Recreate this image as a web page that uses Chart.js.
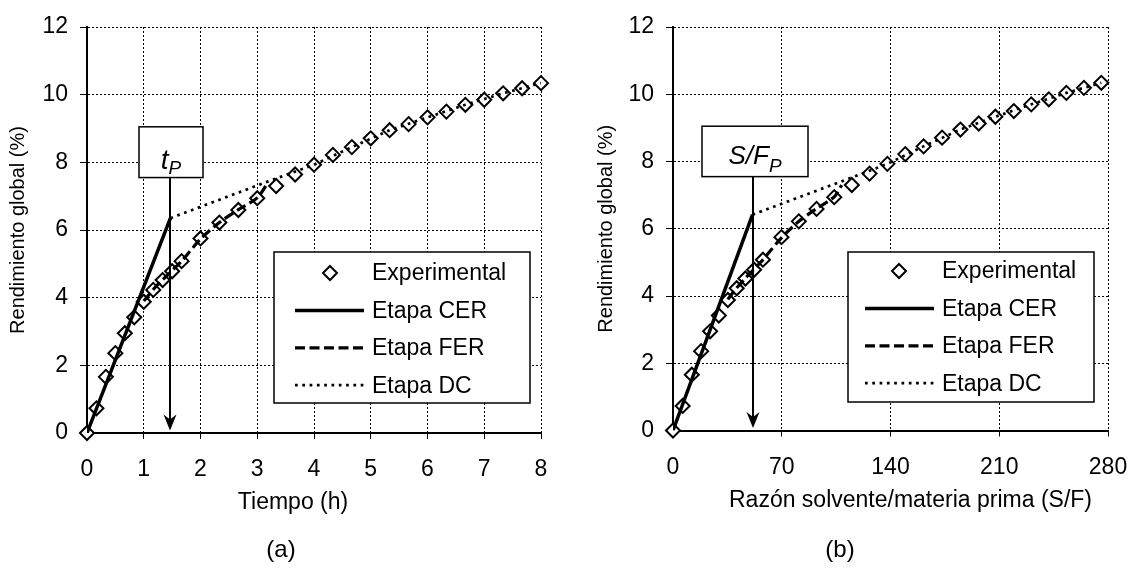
<!DOCTYPE html>
<html><head><meta charset="utf-8">
<script src="https://cdn.jsdelivr.net/npm/chart.js@4.4.1/dist/chart.umd.min.js"></script>
<style>
html,body{margin:0;padding:0;background:#fff;width:1131px;height:583px;overflow:hidden;font-family:"Liberation Sans",Arial,sans-serif;}
#wrapA{position:absolute;left:0;top:0;width:565px;height:583px;}
#wrapB{position:absolute;left:565px;top:0;width:566px;height:583px;}
.cap{position:absolute;font-size:24px;color:#000;transform:translate(-50%,-50%);white-space:nowrap;}
</style></head><body>
<div id="wrapA"><canvas id="cA" width="565" height="583"></canvas></div>
<div id="wrapB"><canvas id="cB" width="566" height="583"></canvas></div>
<div class="cap" style="left:281px;top:549px">(a)</div>
<div class="cap" style="left:840px;top:549px">(b)</div>
<script>
// ---------- data ----------
const timeH    = [0, 0.167, 0.333, 0.5, 0.667, 0.833, 1.0, 1.167, 1.333, 1.5, 1.667, 2.0, 2.333, 2.667, 3.0, 3.333, 3.667, 4.0, 4.333, 4.667, 5.0, 5.333, 5.667, 6.0, 6.333, 6.667, 7.0, 7.333, 7.667, 8.0];
const sfRatio  = [0, 6.2, 12.1, 18.1, 23.9, 29.5, 35.3, 41.0, 46.6, 52.2, 57.9, 69.8, 81.0, 92.4, 103.8, 115.1, 126.5, 138.0, 149.5, 161.3, 173.2, 185.0, 196.8, 207.5, 219.4, 230.6, 241.9, 253.2, 264.5, 275.7];
const yieldPct = [0, 0.73, 1.66, 2.36, 2.95, 3.42, 3.88, 4.23, 4.52, 4.78, 5.08, 5.75, 6.22, 6.59, 6.94, 7.30, 7.64, 7.93, 8.22, 8.45, 8.71, 8.95, 9.13, 9.33, 9.50, 9.70, 9.85, 10.04, 10.19, 10.34];

const cerTime   = [0, 1.47];
const cerYieldA = [0, 6.35];
const ferTime   = [1.0, 1.167, 1.333, 1.5, 1.667, 2.0, 2.333, 2.667, 3.0, 3.15];
const ferYieldA = [3.90, 4.24, 4.53, 4.80, 5.08, 5.73, 6.22, 6.60, 6.95, 7.30];
const dcTime    = [1.47, 3.18, 4.0, 4.667, 5.333, 6.0, 6.667, 7.333, 8.0];
const dcYieldA  = [6.35, 7.43, 7.93, 8.45, 8.95, 9.33, 9.70, 10.04, 10.34];

const cerSF     = [0, 51.2];
const cerYieldB = [0, 6.42];
const ferSF     = [35.3, 41.0, 46.6, 52.2, 57.9, 69.8, 81.0, 92.4, 103.8, 108.6];
const ferYieldB = [3.90, 4.24, 4.53, 4.80, 5.08, 5.73, 6.22, 6.60, 6.95, 7.30];
const dcSF      = [51.2, 109.7, 138.0, 161.3, 185.0, 207.5, 230.6, 253.2, 275.7];
const dcYieldB  = [6.42, 7.43, 7.93, 8.45, 8.95, 9.33, 9.70, 10.04, 10.34];

const xTicksA = [0, 1, 2, 3, 4, 5, 6, 7, 8];
const xTicksB = [0, 70, 140, 210, 280];
const yTicks  = [0, 2, 4, 6, 8, 10, 12];

const seriesNames = ['Experimental', 'Etapa CER', 'Etapa FER', 'Etapa DC'];
const xTitleA = 'Tiempo (h)';
const xTitleB = 'Razón solvente/materia prima (S/F)';
const yTitle  = 'Rendimiento global (%)';
const markA = {value: 1.47, main: 't', sub: 'P'};
const markB = {value: 51.2, main: 'S/F', sub: 'P'};
const boxYRange = [7.55, 9.05];

// ---------- helpers ----------
const FAM = '"Liberation Sans", Arial, sans-serif';
Chart.defaults.font.family = FAM;
Chart.defaults.color = '#000';
const pts = (xs, ys) => xs.map((x, i) => ({x: x, y: ys[i]}));

const annotPlugin = {
  id: 'annot',
  afterDatasetsDraw(chart, args, o) {
    const ctx = chart.ctx, xs = chart.scales.x, ys = chart.scales.y;
    const px = Math.round(xs.getPixelForValue(o.value));
    const y0 = ys.getPixelForValue(0);
    const bT = ys.getPixelForValue(boxYRange[1]);
    const bB = ys.getPixelForValue(boxYRange[0]);
    const cx = px + o.boxDx;
    const bL = cx - o.boxW / 2;
    ctx.save();
    ctx.strokeStyle = '#000'; ctx.lineWidth = 2;
    ctx.beginPath(); ctx.moveTo(px, bB); ctx.lineTo(px, y0 - 12); ctx.stroke();
    const tip = y0 - 2.5;
    ctx.fillStyle = '#000';
    ctx.beginPath(); ctx.moveTo(px, tip); ctx.lineTo(px - 6.5, tip - 16); ctx.lineTo(px, tip - 11); ctx.lineTo(px + 6.5, tip - 16); ctx.closePath(); ctx.fill();
    ctx.fillStyle = '#fff';
    ctx.fillRect(bL, bT, o.boxW, bB - bT);
    ctx.lineWidth = 1.5; ctx.strokeStyle = '#000';
    ctx.strokeRect(bL, bT, o.boxW, bB - bT);
    ctx.fillStyle = '#000';
    ctx.textBaseline = 'alphabetic'; ctx.textAlign = 'left';
    const fMain = 'italic ' + o.mainSize + 'px ' + FAM;
    const fSub = 'italic ' + o.subSize + 'px ' + FAM;
    ctx.font = fMain; const wM = ctx.measureText(o.main).width;
    ctx.font = fSub; const wS = ctx.measureText(o.sub).width;
    const sx = cx - (wM + wS) / 2;
    ctx.font = fMain; ctx.fillText(o.main, sx, bT + o.baseline);
    ctx.font = fSub; ctx.fillText(o.sub, sx + wM, bT + o.baseline + o.subDy);
    ctx.restore();
  }
};

const boxLegendPlugin = {
  id: 'boxLegend',
  afterDatasetsDraw(chart, args, o) {
    const ctx = chart.ctx, ca = chart.chartArea;
    const L = ca.right - o.right - o.width, T = ca.bottom - o.bottom - o.height;
    ctx.save();
    ctx.fillStyle = '#fff'; ctx.fillRect(L, T, o.width, o.height);
    ctx.strokeStyle = '#000'; ctx.lineWidth = 1.5; ctx.strokeRect(L, T, o.width, o.height);
    ctx.font = o.fontSize + 'px ' + FAM; ctx.textBaseline = 'middle'; ctx.textAlign = 'left';
    chart.data.datasets.forEach((ds, i) => {
      const cy = T + o.firstRow + i * o.rowGap;
      ctx.save();
      if (ds.showLine === false) {
        const r = ds.pointRadius;
        ctx.beginPath();
        ctx.moveTo(L + o.symX, cy - r); ctx.lineTo(L + o.symX + r, cy); ctx.lineTo(L + o.symX, cy + r); ctx.lineTo(L + o.symX - r, cy); ctx.closePath();
        ctx.fillStyle = '#fff'; ctx.fill();
        ctx.lineWidth = ds.pointBorderWidth; ctx.strokeStyle = '#000'; ctx.stroke();
      } else {
        ctx.strokeStyle = '#000'; ctx.lineWidth = ds.borderWidth;
        ctx.setLineDash(ds.borderDash || []);
        ctx.beginPath(); ctx.moveTo(L + o.lineX0, cy); ctx.lineTo(L + o.lineX1, cy); ctx.stroke();
      }
      ctx.restore();
      ctx.fillStyle = '#000';
      ctx.fillText(ds.label, L + o.textX, cy + 1);
    });
    ctx.restore();
  }
};

const xTitlePlugin = {
  id: 'xTitle',
  afterDraw(chart, args, o) {
    const ctx = chart.ctx, s = chart.scales.x;
    ctx.save();
    ctx.font = o.fontSize + 'px ' + FAM; ctx.fillStyle = '#000';
    ctx.textAlign = 'center'; ctx.textBaseline = 'middle';
    ctx.fillText(o.text, (s.left + s.right) / 2 + o.dx, chart.chartArea.bottom + o.dy);
    ctx.restore();
  }
};

function datasets(xExp, cerX, cerY, ferX, ferY, dcX, dcY) {
  return [
    {label: seriesNames[0], data: pts(xExp, yieldPct), showLine: false, pointStyle: 'rectRot', pointRadius: 7, pointHoverRadius: 7,
     pointBorderWidth: 2, pointBackgroundColor: '#fff', pointBorderColor: '#000', order: 4, clip: false},
    {label: seriesNames[1], data: pts(cerX, cerY), showLine: true, borderColor: '#000', borderWidth: 3.5, pointRadius: 0, order: 3},
    {label: seriesNames[2], data: pts(ferX, ferY), showLine: true, borderColor: '#000', borderWidth: 3.2, borderDash: [10, 4.5], tension: 0.3, pointRadius: 0, order: 2},
    {label: seriesNames[3], data: pts(dcX, dcY), showLine: true, borderColor: '#000', borderWidth: 2.7, borderDash: [2.7, 4.6], pointRadius: 0, order: 1}
  ];
}

function makeChart(id, cfg) {
  return new Chart(document.getElementById(id), {
    type: 'scatter',
    data: {datasets: cfg.datasets},
    options: {
      responsive: false, animation: false, devicePixelRatio: 1,
      layout: {autoPadding: false, padding: {left: 0, right: cfg.padRight, top: 27, bottom: 0}},
      plugins: {
        legend: {display: false}, tooltip: {enabled: false},
        annot: cfg.annot, boxLegend: cfg.legend,
        xTitle: {text: cfg.xTitle, fontSize: 23, dx: cfg.xTitleDx, dy: 70}
      },
      scales: {
        x: {
          type: 'linear', min: cfg.xTicks[0], max: cfg.xTicks[cfg.xTicks.length - 1],
          afterBuildTicks: s => { s.ticks = cfg.xTicks.map(v => ({value: v})); },
          afterFit: s => { s.height = cfg.xAxisH; s.paddingLeft = 0; s.paddingRight = 0; },
          ticks: {font: {size: 23}, color: '#000', padding: 17, maxRotation: 0, autoSkip: false},
          grid: {color: '#000', lineWidth: 1, drawTicks: true, tickLength: 6, tickColor: '#000', tickWidth: 1},
          border: {display: true, color: '#000', width: 2, dash: [2, 2]},
          title: {display: false, text: cfg.xTitle}
        },
        y: {
          type: 'linear', min: 0, max: 12,
          afterBuildTicks: s => { s.ticks = yTicks.map(v => ({value: v})); },
          afterFit: s => { s.width = cfg.yAxisW; s.paddingTop = 0; s.paddingBottom = 0; },
          ticks: {font: {size: 23}, color: '#000', padding: 12},
          grid: {color: '#000', lineWidth: 1, drawTicks: true, tickLength: 7, tickColor: '#000', tickWidth: 1},
          border: {display: true, color: '#000', width: 2, dash: [2, 2]},
          title: {display: true, text: yTitle, font: {size: 20}, color: '#000', padding: {top: cfg.yTitlePad, bottom: 0}}
        }
      }
    },
    plugins: [annotPlugin, boxLegendPlugin, xTitlePlugin]
  });
}

makeChart('cA', {
  datasets: datasets(timeH, cerTime, cerYieldA, ferTime, ferYieldA, dcTime, dcYieldA),
  xTicks: xTicksA, xTitle: xTitleA, xTitleDx: -21, padRight: 24, xAxisH: 150, yAxisW: 87, yTitlePad: 6,
  annot: {value: markA.value, main: markA.main, sub: markA.sub, boxW: 64, boxDx: 1, mainSize: 28, subSize: 19, baseline: 42, subDy: 5},
  legend: {right: 11, bottom: 30, width: 256, height: 151, firstRow: 21, rowGap: 37.4, symX: 56, lineX0: 21, lineX1: 90, textX: 98, fontSize: 23}
});
makeChart('cB', {
  datasets: datasets(sfRatio, cerSF, cerYieldB, ferSF, ferYieldB, dcSF, dcYieldB),
  xTicks: xTicksB, xTitle: xTitleB, xTitleDx: 20, padRight: 23, xAxisH: 152.5, yAxisW: 108, yTitlePad: 29,
  annot: {value: markB.value, main: markB.main, sub: markB.sub, boxW: 106, boxDx: 2, mainSize: 26, subSize: 19, baseline: 38, subDy: 8},
  legend: {right: 14, bottom: 28.5, width: 246, height: 150, firstRow: 19, rowGap: 37.4, symX: 51, lineX0: 17, lineX1: 86, textX: 94, fontSize: 23}
});
</script>
</body></html>
